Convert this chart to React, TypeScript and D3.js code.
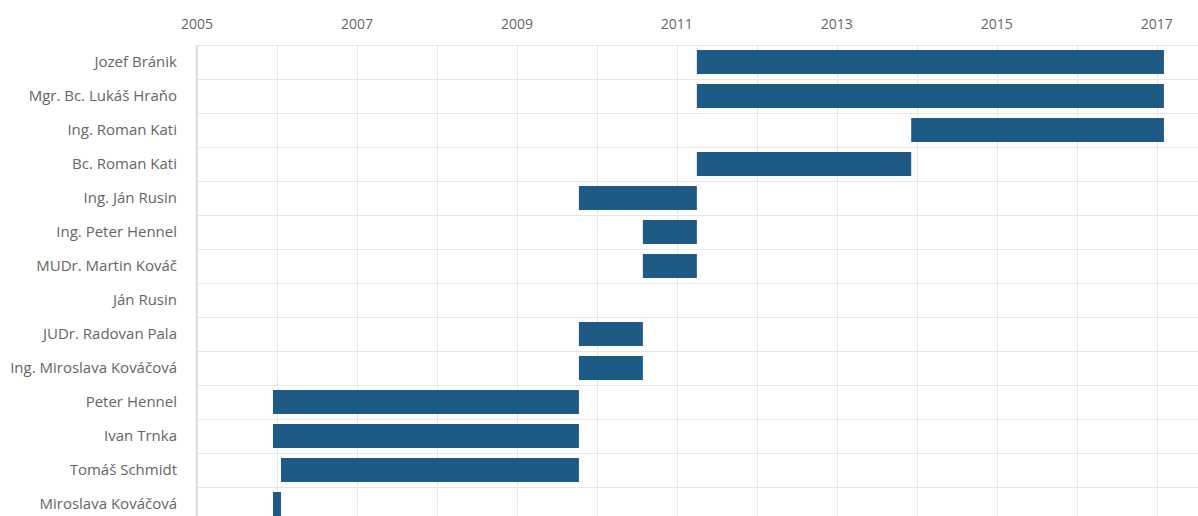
import { useMemo } from "react";
import * as d3 from "d3";

const WIDTH = 1198;
const HEIGHT = 516;
const MARGIN = { top: 45, right: 0, left: 197 };
const ROW_H = 34;

const people = [
  "Jozef Bránik",
  "Mgr. Bc. Lukáš Hraňo",
  "Ing. Roman Kati",
  "Bc. Roman Kati",
  "Ing. Ján Rusin",
  "Ing. Peter Hennel",
  "MUDr. Martin Kováč",
  "Ján Rusin",
  "JUDr. Radovan Pala",
  "Ing. Miroslava Kováčová",
  "Peter Hennel",
  "Ivan Trnka",
  "Tomáš Schmidt",
  "Miroslava Kováčová",
];

// start / end of each term, as decimal years (null = no bar)
const starts = [2011.25, 2011.25, 2013.93, 2011.25, 2009.775, 2010.575, 2010.575, null, 2009.775, 2009.775, 2005.95, 2005.95, 2006.05, 2005.95];
const ends = [2017.09, 2017.09, 2017.09, 2013.93, 2011.25, 2011.25, 2011.25, null, 2010.575, 2010.575, 2009.775, 2009.775, 2009.775, 2006.05];

const yearTicks = [2005, 2007, 2009, 2011, 2013, 2015, 2017];
const gridYears = d3.range(2005, 2018);

const BAR_COLOR = "#1f5a87";
const GRID = "#e6e6e6";
const FONT = "'Open Sans', sans-serif";

export default function App() {
  const xScale = useMemo(
    () => d3.scaleLinear().domain([2005, 2017.516]).range([MARGIN.left, WIDTH - MARGIN.right]),
    []
  );
  const yScale = useMemo(
    () =>
      d3
        .scaleBand()
        .domain(people)
        .range([MARGIN.top, MARGIN.top + ROW_H * people.length])
        .paddingInner(0)
        .paddingOuter(0),
    []
  );
  const barH = 24;

  return (
    <svg
      width={WIDTH}
      height={HEIGHT}
      style={{ position: "absolute", left: 0, top: 0, background: "#fff" }}
      fontFamily={FONT}
    >
      {/* vertical grid */}
      {gridYears.map((yr) => (
        <line
          key={"g" + yr}
          x1={Math.round(xScale(yr)) + 0.5}
          x2={Math.round(xScale(yr)) + 0.5}
          y1={MARGIN.top}
          y2={HEIGHT}
          stroke={GRID}
          strokeWidth={1}
        />
      ))}
      {/* row lines */}
      {people.map((p) => (
        <line
          key={"r" + p}
          x1={MARGIN.left}
          x2={WIDTH}
          y1={Math.round(yScale(p)!) + 0.5}
          y2={Math.round(yScale(p)!) + 0.5}
          stroke={GRID}
          strokeWidth={1}
        />
      ))}
      {/* left axis line */}
      <line
        x1={MARGIN.left - 0.5}
        x2={MARGIN.left - 0.5}
        y1={MARGIN.top}
        y2={HEIGHT}
        stroke="#ccd6eb"
        strokeWidth={1}
      />
      {/* top year labels */}
      {yearTicks.map((yr) => (
        <text
          key={"t" + yr}
          x={xScale(yr)}
          y={29}
          textAnchor="middle"
          fontSize={14}
          fill="#666666"
        >
          {yr}
        </text>
      ))}
      {/* category labels */}
      {people.map((p) => (
        <text
          key={"l" + p}
          x={MARGIN.left - 20}
          y={yScale(p)! + yScale.bandwidth() / 2}
          dy="0.35em"
          textAnchor="end"
          fontSize={15}
          fill="#666666"
        >
          {p}
        </text>
      ))}
      {/* bars */}
      {people.map((p, i) => {
        const s = starts[i];
        const e = ends[i];
        if (s == null || e == null) return null;
        const x0 = xScale(s);
        const x1 = xScale(e);
        return (
          <rect
            key={"b" + p}
            x={x0}
            y={yScale(p)! + (yScale.bandwidth() - barH) / 2}
            width={x1 - x0}
            height={barH}
            fill={BAR_COLOR}
          />
        );
      })}
    </svg>
  );
}
